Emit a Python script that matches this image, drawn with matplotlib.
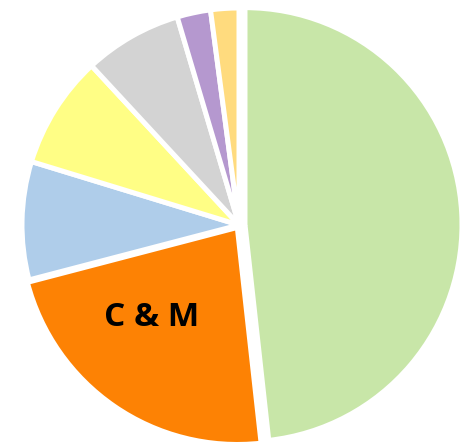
import numpy as np
import matplotlib
matplotlib.use("Agg")
import matplotlib.pyplot as plt

# Data (shares, clockwise from 12 o'clock)
labels = ["", "C & M", "", "", "", "", ""]
values = [48.3, 22.7, 8.8, 8.4, 7.3, 2.5, 2.1]
colors = ["#C8E6A8", "#FD8204", "#AFCDEA", "#FFFE85", "#D3D3D3", "#B598CF", "#FFDB7E"]
# explode offsets (in pixel-sized data units, since the axes span the pixel grid)
explode = [6, 3, 0, 0, 0, 0, 0]

W, H = 466, 445
fig = plt.figure(figsize=(W / 100, H / 100), dpi=100)
ax = fig.add_axes([0, 0, 1, 1])

cx, cy, R = 239, H - 225, 217.0
wedges, texts = ax.pie(
    values, labels=labels, colors=colors, explode=explode,
    startangle=90, counterclock=False, center=(cx, cy), radius=R,
    labeldistance=0.57, frame=True,
    wedgeprops=dict(edgecolor="white", linewidth=3.6),
    textprops=dict(fontsize=24, fontweight="bold", color="black", family="Open Sans"),
)
ax.set_xlim(0, W)
ax.set_ylim(0, H)
ax.set_aspect("equal")
ax.axis("off")

# Place the label inside its wedge, centred
w = wedges[1]
ang = np.deg2rad((w.theta1 + w.theta2) / 2 - 9)
for t in texts:
    t.set_ha("center")
    t.set_va("center")
texts[1].set_position((w.center[0] + 0.57 * R * np.cos(ang), w.center[1] + 0.57 * R * np.sin(ang)))

fig.savefig("out.png", dpi=100)
